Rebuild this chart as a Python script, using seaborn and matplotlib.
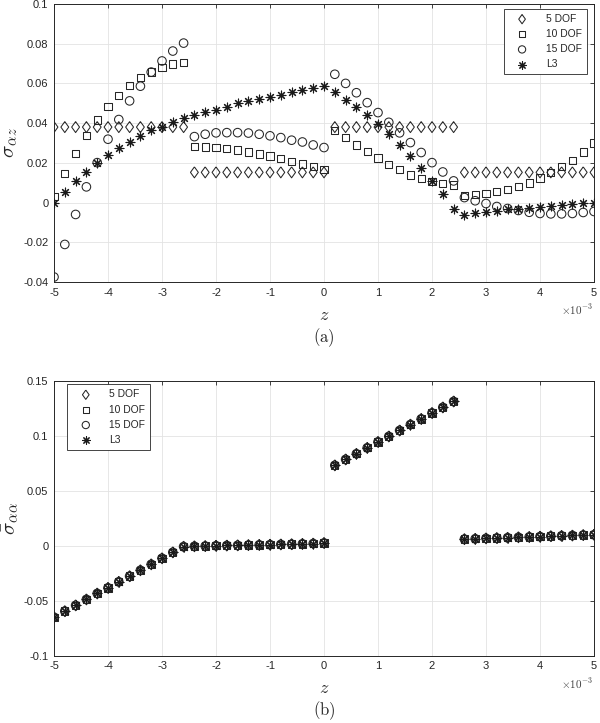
import matplotlib
matplotlib.use("Agg")
import matplotlib.pyplot as plt
import seaborn as sns
import pandas as pd

# z positions (units of 1e-3)
z = [-5.0, -4.8, -4.6, -4.4, -4.2, -4.0, -3.8, -3.6, -3.4, -3.2, -3.0, -2.8, -2.6,
     -2.4, -2.2, -2.0, -1.8, -1.6, -1.4, -1.2, -1.0, -0.8, -0.6, -0.4, -0.2, 0.0,
     0.2, 0.4, 0.6, 0.8, 1.0, 1.2, 1.4, 1.6, 1.8, 2.0, 2.2, 2.4,
     2.6, 2.8, 3.0, 3.2, 3.4, 3.6, 3.8, 4.0, 4.2, 4.4, 4.6, 4.8, 5.0]

# (a) sigma_alpha_z
dof5_az = [0.038, 0.038, 0.038, 0.038, 0.038, 0.038, 0.038, 0.038, 0.038, 0.038, 0.038, 0.038, 0.038,
           0.0152, 0.0152, 0.0152, 0.0152, 0.0152, 0.0152, 0.0152, 0.0152, 0.0152, 0.0152, 0.0152, 0.0152, 0.0152,
           0.038, 0.038, 0.038, 0.038, 0.038, 0.038, 0.038, 0.038, 0.038, 0.038, 0.038, 0.038,
           0.0152, 0.0152, 0.0152, 0.0152, 0.0152, 0.0152, 0.0152, 0.0152, 0.0152, 0.0152, 0.0152, 0.0152, 0.0152]
dof10_az = [0.003, 0.0146, 0.0247, 0.0337, 0.0416, 0.0483, 0.054, 0.059, 0.0629, 0.0657, 0.0681, 0.0698, 0.0706,
            0.0281, 0.028, 0.0278, 0.0273, 0.0265, 0.0255, 0.0245, 0.0235, 0.0223, 0.0207, 0.0194, 0.018, 0.0166,
            0.0364, 0.0327, 0.029, 0.0256, 0.0224, 0.0191, 0.0165, 0.0139, 0.0121, 0.0106, 0.0096, 0.0089,
            0.0034, 0.0042, 0.0047, 0.0055, 0.0065, 0.0082, 0.0099, 0.0123, 0.0151, 0.0181, 0.0213, 0.0255, 0.0299]
dof15_az = [-0.0375, -0.0211, -0.006, 0.0079, 0.0201, 0.0319, 0.0418, 0.0512, 0.0586, 0.0657, 0.0713, 0.0763, 0.0803,
            0.0332, 0.0344, 0.0351, 0.0352, 0.0352, 0.035, 0.0344, 0.0336, 0.0327, 0.0314, 0.0305, 0.029, 0.0277,
            0.0646, 0.06, 0.0553, 0.0503, 0.0453, 0.0404, 0.0351, 0.0302, 0.0252, 0.0201, 0.0154, 0.0109,
            0.0025, 0.0009, -0.0005, -0.002, -0.003, -0.004, -0.0049, -0.0055, -0.0057, -0.0057, -0.0055, -0.005, -0.0045]
l3_az = [0.0, 0.0054, 0.0106, 0.0154, 0.0201, 0.0238, 0.0277, 0.0307, 0.0337, 0.0364, 0.0382, 0.0407, 0.0428,
         0.0441, 0.0455, 0.0468, 0.0481, 0.05, 0.0512, 0.0523, 0.0533, 0.0543, 0.0557, 0.0565, 0.0575, 0.0587,
         0.0557, 0.0518, 0.0481, 0.044, 0.0394, 0.0344, 0.029, 0.0235, 0.0176, 0.0109, 0.0042, -0.003,
         -0.0062, -0.0053, -0.0047, -0.0042, -0.0033, -0.003, -0.0025, -0.0022, -0.0018, -0.0012, -0.0008, -0.0003, 0.0]

# (b) sigma_alpha_alpha -- all four models overlap
dof5_aa = [-0.065, -0.0595, -0.0542, -0.0488, -0.0434, -0.0383, -0.0328, -0.0277, -0.0223, -0.0169, -0.0114, -0.006, -0.0008,
           -0.0005, -0.0003, 0.0, 0.0002, 0.0004, 0.0006, 0.0008, 0.001, 0.0012, 0.0014, 0.0017, 0.002, 0.0025,
           0.0731, 0.0785, 0.0836, 0.089, 0.0944, 0.0994, 0.1048, 0.1102, 0.1153, 0.1207, 0.1258, 0.1312,
           0.006, 0.0063, 0.0067, 0.007, 0.0073, 0.0077, 0.008, 0.0083, 0.0087, 0.009, 0.0093, 0.0097, 0.0100]
dof10_aa = list(dof5_aa)
dof15_aa = list(dof5_aa)
l3_aa = list(dof5_aa)

labels = ["5 DOF", "10 DOF", "15 DOF", "L3"]
xticks = [-5, -4, -3, -2, -1, 0, 1, 2, 3, 4, 5]
xticklabels = ["-5", "-4", "-3", "-2", "-1", "0", "1", "2", "3", "4", "5"]
yticks_a = [-0.04, -0.02, 0, 0.02, 0.04, 0.06, 0.08, 0.1]
yticklabels_a = ["-0.04", "-0.02", "0", "0.02", "0.04", "0.06", "0.08", "0.1"]
yticks_b = [-0.1, -0.05, 0, 0.05, 0.1, 0.15]
yticklabels_b = ["-0.1", "-0.05", "0", "0.05", "0.1", "0.15"]

sns.set_theme(style="white")
plt.rcParams["font.family"] = ["Liberation Sans", "DejaVu Sans"]
plt.rcParams["mathtext.fontset"] = "cm"
plt.rcParams["axes.unicode_minus"] = False

# MATLAB-like diamond (a bit wider than matplotlib's thin diamond)
diamond = [(0, 1), (0.72, 0), (0, -1), (-0.72, 0), (0, 1)]
marker_styles = {"5 DOF": dict(marker=diamond, s=62),
                 "10 DOF": dict(marker="s", s=28),
                 "15 DOF": dict(marker="o", s=38),
                 "L3": dict(marker=(8, 2, 0), s=40)}

fig = plt.figure(figsize=(6.0, 7.23), dpi=100)
ax1 = fig.add_axes([0.09, 0.61, 0.90, 0.3845])
ax2 = fig.add_axes([0.09, 0.0931, 0.90, 0.3803])


def draw(ax, series):
    for name, vals in zip(labels, series):
        df = pd.DataFrame({"z": z, "v": vals})
        st = marker_styles[name]
        if name == "L3":
            sns.scatterplot(data=df, x="z", y="v", marker=st["marker"], s=st["s"],
                            color="#1a1a1a", linewidth=0.8, label=name, ax=ax, zorder=3)
        else:
            sns.scatterplot(data=df, x="z", y="v", marker=st["marker"], s=st["s"],
                            facecolors="none", edgecolor="#262626", linewidth=0.75,
                            label=name, ax=ax, zorder=3)


def style(ax, yticks, yticklabels, ylim, ylabel, tag, legloc, bbox):
    ax.set_xlim(-5, 5)
    ax.set_ylim(*ylim)
    ax.set_xticks(xticks)
    ax.set_xticklabels(xticklabels)
    ax.set_yticks(yticks)
    ax.set_yticklabels(yticklabels)
    ax.grid(True, color="#e3e3e3", linewidth=0.6)
    ax.set_axisbelow(True)
    ax.tick_params(direction="in", length=3, width=0.6, colors="#262626",
                   labelsize=8, top=True, right=True, labeltop=False, labelright=False,
                   pad=4)
    for sp in ax.spines.values():
        sp.set_color("#262626")
        sp.set_linewidth(0.7)
    ax.set_xlabel("")
    ax.set_ylabel(ylabel, fontsize=15, labelpad=2)
    ax.text(0.5, -0.12, r"$z$", transform=ax.transAxes, ha="center", va="center", fontsize=13)
    ax.text(0.5, -0.2, r"$\mathrm{(a)}$" if tag == "a" else r"$\mathrm{(b)}$",
            transform=ax.transAxes, ha="center", va="center", fontsize=12)
    ax.text(0.998, -0.1, r"$\times10^{-3}$", transform=ax.transAxes, ha="right", va="center",
            fontsize=8, color="#404040", family=["DejaVu Sans"])
    leg = ax.legend(loc=legloc, bbox_to_anchor=bbox, fontsize=7.4, frameon=True,
                    fancybox=False, edgecolor="#262626", framealpha=1,
                    handletextpad=1.0, borderpad=0.5, labelspacing=0.5,
                    handlelength=2.6, borderaxespad=0, markerscale=0.85)
    leg.get_frame().set_linewidth(0.6)


draw(ax1, [dof5_az, dof10_az, dof15_az, l3_az])
style(ax1, yticks_a, yticklabels_a, (-0.04, 0.1), r"$\bar{\sigma}_{\alpha z}$", "a",
      "upper right", (0.9865, 0.983))

draw(ax2, [dof5_aa, dof10_aa, dof15_aa, l3_aa])
style(ax2, yticks_b, yticklabels_b, (-0.1, 0.15), r"$\bar{\sigma}_{\alpha\alpha}$", "b",
      "upper left", (0.0246, 0.987))

fig.savefig("out.png", dpi=100)
